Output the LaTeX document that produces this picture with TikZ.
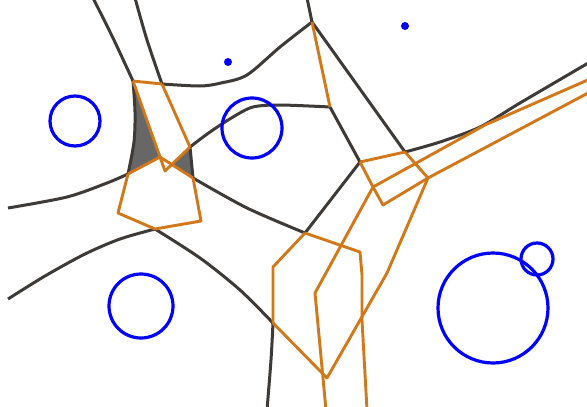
\documentclass[tikz,border=0pt]{standalone}
\definecolor{edgegray}{RGB}{62,58,55}
\definecolor{dualorange}{RGB}{211,120,26}
\definecolor{regiongray}{RGB}{103,103,103}
\definecolor{siteblue}{RGB}{0,0,255}
\begin{document}
\begin{tikzpicture}[x=1pt,y=-1pt,
  gedge/.style={draw=edgegray,line width=3pt,line join=round},
  oedge/.style={draw=dualorange,line width=2.9pt,line join=round},
  site/.style={draw=siteblue,line width=3.2pt},
  ptsite/.style={fill=siteblue},
  shaded/.style={fill=regiongray}]
\useasboundingbox (0,0) rectangle (587,407);
\clip (0,0) rectangle (587,407);
% vertices
\coordinate (A) at (133,81);
\coordinate (B) at (162,84);
\coordinate (Ct) at (312,22);
\coordinate (D) at (330,107);
\coordinate (E) at (405,152);
\coordinate (F) at (360,162);
\coordinate (G) at (305,233);
\coordinate (H) at (190,147);
\coordinate (I) at (193,178);
\coordinate (J) at (128,174);
\coordinate (K) at (155,229);
\coordinate (L) at (273,323);
\coordinate (P) at (160,157);
\coordinate (Q) at (165,171);
\coordinate (R) at (118,213);
\coordinate (S) at (201,221);
\coordinate (T) at (373,187);
\coordinate (U) at (383,205);
\coordinate (V) at (428,178);
\coordinate (X) at (172.4,164.9);
% shaded regions
\fill[shaded] plot[smooth] coordinates {(A) (135,112) (134,142) (J)} -- (P) -- cycle;
\fill[shaded] (X) -- (H) -- (I) -- cycle;
% gray edges
\draw[gedge] plot[smooth] coordinates {(93,-2) (113,38) (A)};
\draw[gedge] plot[smooth] coordinates {(135,-2) (147,40) (B)};
\draw[gedge] plot[smooth] coordinates {(A) (135,112) (134,142) (J)};
\draw[gedge] plot[smooth] coordinates {(J) (107,183) (67,197) (8,208)};
\draw[gedge] plot[smooth] coordinates {(B) (200,86) (221,83) (247,75) (280,47) (Ct)};
\draw[gedge] (Ct) -- (307,-2);
\draw[gedge] (Ct) -- (E);
\draw[gedge] plot[smooth] coordinates {(H) (210,132) (233,117) (253,107) (280,105) (D)};
\draw[gedge] (D) -- (F);
\draw[gedge] (H) -- (I);
\draw[gedge] plot[smooth] coordinates {(I) (247,208) (G)};
\draw[gedge] (G) -- (F);
\draw[gedge] plot[smooth] coordinates {(E) (440,142) (480,127) (520,103) (590,62)};
\draw[gedge] plot[smooth] coordinates {(K) (120,239) (85,254) (45,276) (8,299)};
\draw[gedge] plot[smooth] coordinates {(K) (200,258) (240,290) (L)};
\draw[gedge] plot[smooth] coordinates {(L) (271,360) (267,410)};
% orange dual edges
\draw[oedge] (A) -- (B);
\draw[oedge] (A) -- (P);
\draw[oedge] (B) -- (H);
\draw[oedge] (P) -- (Q) -- (H);
\draw[oedge] (P) -- (J);
\draw[oedge] (P) -- (I);
\draw[oedge] (J) -- (R) -- (K) -- (S) -- (I);
\draw[oedge] (Ct) -- (D);
\draw[oedge] (F) -- (E);
\draw[oedge] (F) -- (T) -- (U) -- (V);
\draw[oedge] (E) -- (V);
\draw[oedge] (T) -- (485,125) -- (590,79);
\draw[oedge] (V) -- (590,92);
\draw[oedge] (V) -- (387,273) -- (327,378) -- (L);
\draw[oedge] (G) -- (273,267) -- (L);
\draw[oedge] (G) -- (360,252) -- (362,275) -- (362,320) -- (367,410);
\draw[oedge] (T) -- (315,293) -- (326,410);
% sites
\draw[site] (75,121) circle (25);
\draw[site] (252,128) circle (30);
\draw[site] (141,306) circle (32);
\draw[site] (493,308) circle (55);
\draw[site] (537,259) circle (16);
\fill[ptsite] (228,62) circle (4);
\fill[ptsite] (405,26) circle (4);
\end{tikzpicture}
\end{document}
